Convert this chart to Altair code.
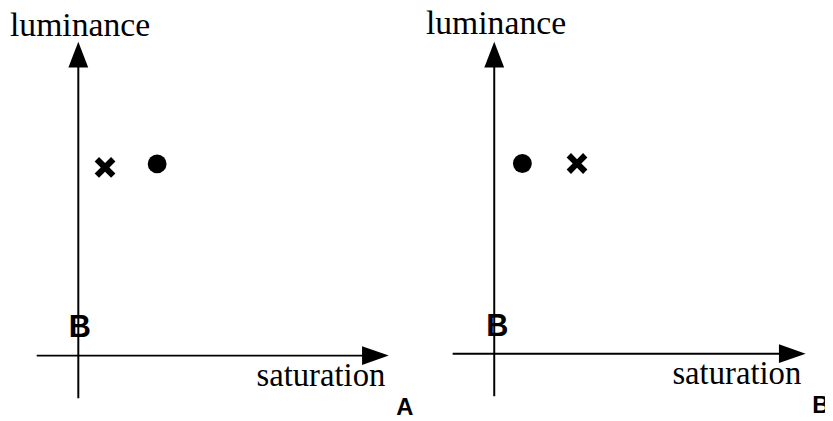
import altair as alt
import pandas as pd

# ---- diagram data (units of the diagram; origin of each panel at 0,0) ----
panels = ["A", "B"]
panel_shift_sat = [0.0, 21.0]
panel_shift_lum = [0.0, 0.1]

axis_sat_min = [-2.1, -2.1]
axis_sat_tip = [15.65, 15.7]
axis_lum_min = [-2.15, -2.15]
axis_lum_tip = [15.85, 15.75]

cross_sat = [1.35, 4.18]
cross_lum = [9.5, 9.6]
dot_sat = [3.98, 1.42]
dot_lum = [9.68, 9.6]

origin_text = ["B", "B"]
origin_sat = [0.08, 0.15]
origin_lum = [1.38, 1.33]

y_title = "luminance"
x_title = "saturation"
y_title_sat, y_title_lum = -3.45, 16.15
x_title_sat, x_title_lum = 15.5, -1.55
panel_sat, panel_lum = 16.05, -3.0

ARROW_LEN = 1.3

# ---- tables built from the arrays ----
lines, heads_up, heads_right, marks_x, marks_o, texts = [], [], [], [], [], []
for i, p in enumerate(panels):
    sx, sy = panel_shift_sat[i], panel_shift_lum[i]
    lines.append(dict(x=sx, x2=sx, y=axis_lum_min[i] + sy, y2=axis_lum_tip[i] - ARROW_LEN + 0.1 + sy))
    lines.append(dict(x=axis_sat_min[i] + sx, x2=axis_sat_tip[i] - ARROW_LEN + 0.1 + sx, y=sy, y2=sy))
    heads_up.append(dict(x=sx, y=axis_lum_tip[i] - ARROW_LEN / 2 + sy))
    heads_right.append(dict(x=axis_sat_tip[i] - ARROW_LEN / 2 + sx, y=sy))
    marks_x.append(dict(x=cross_sat[i] + sx, y=cross_lum[i] + sy))
    marks_o.append(dict(x=dot_sat[i] + sx, y=dot_lum[i] + sy))
    texts.append(dict(role="ytitle", t=y_title, x=y_title_sat + sx, y=y_title_lum + sy))
    texts.append(dict(role="xtitle", t=x_title, x=x_title_sat + sx, y=x_title_lum + sy))
    texts.append(dict(role="panel", t=p, x=panel_sat + sx, y=panel_lum + sy))
    texts.append(dict(role="origin", t=origin_text[i], x=origin_sat[i] + sx, y=origin_lum[i] + sy))

lines = pd.DataFrame(lines)
heads_up = pd.DataFrame(heads_up)
heads_right = pd.DataFrame(heads_right)
marks_x = pd.DataFrame(marks_x)
marks_o = pd.DataFrame(marks_o)
texts = pd.DataFrame(texts)

xs = alt.Scale(domain=[-3.55, 37.7], nice=False, zero=False)
ys = alt.Scale(domain=[-3.2, 17.45], nice=False, zero=False)
X = alt.X("x:Q", scale=xs, axis=None)
Y = alt.Y("y:Q", scale=ys, axis=None)

rule = alt.Chart(lines).mark_rule(color="black", strokeWidth=2).encode(
    x=X, x2="x2:Q", y=Y, y2="y2:Q")

up = alt.Chart(heads_up).mark_point(
    shape="M0,-1L0.77,1L-0.77,1Z", filled=True, color="black", opacity=1,
    size=676).encode(x=X, y=Y)
right = alt.Chart(heads_right).mark_point(
    shape="M1,0L-1,-0.7L-1,0.7Z", filled=True, color="black", opacity=1,
    size=729).encode(x=X, y=Y)

a = 0.42
xpath = ("M-1,-{b}L-{b},-1L0,-{a}L{b},-1L1,-{b}L{a},0L1,{b}L{b},1L0,{a}L-{b},1L-1,{b}L-{a},0Z"
         ).format(a=a, b=1 - a)
cross = alt.Chart(marks_x).mark_point(
    shape=xpath, filled=True, color="black", opacity=1, size=441).encode(x=X, y=Y)
dot = alt.Chart(marks_o).mark_point(
    shape="circle", filled=True, color="black", opacity=1, size=361).encode(x=X, y=Y)

def txt(role, **kw):
    return alt.Chart(texts).transform_filter(alt.datum.role == role).mark_text(
        color="black", **kw).encode(x=X, y=Y, text="t:N")

t_y = txt("ytitle", font="Liberation Serif", fontSize=34, align="left", baseline="alphabetic")
t_x = txt("xtitle", font="Liberation Serif", fontSize=33, align="right", baseline="alphabetic")
t_p = txt("panel", font="Liberation Sans", fontSize=24, fontWeight="bold", align="left", baseline="alphabetic")
t_o = txt("origin", font="Liberation Sans", fontSize=31, fontWeight="bold", align="center", baseline="middle")

chart = alt.layer(rule, up, right, cross, dot, t_o, t_y, t_x, t_p).properties(
    width=825, height=413, autosize=alt.AutoSizeParams(type="none"), padding=0
).configure_view(stroke=None)

chart.save("out.html", embed_options={"renderer": "svg", "actions": False})
